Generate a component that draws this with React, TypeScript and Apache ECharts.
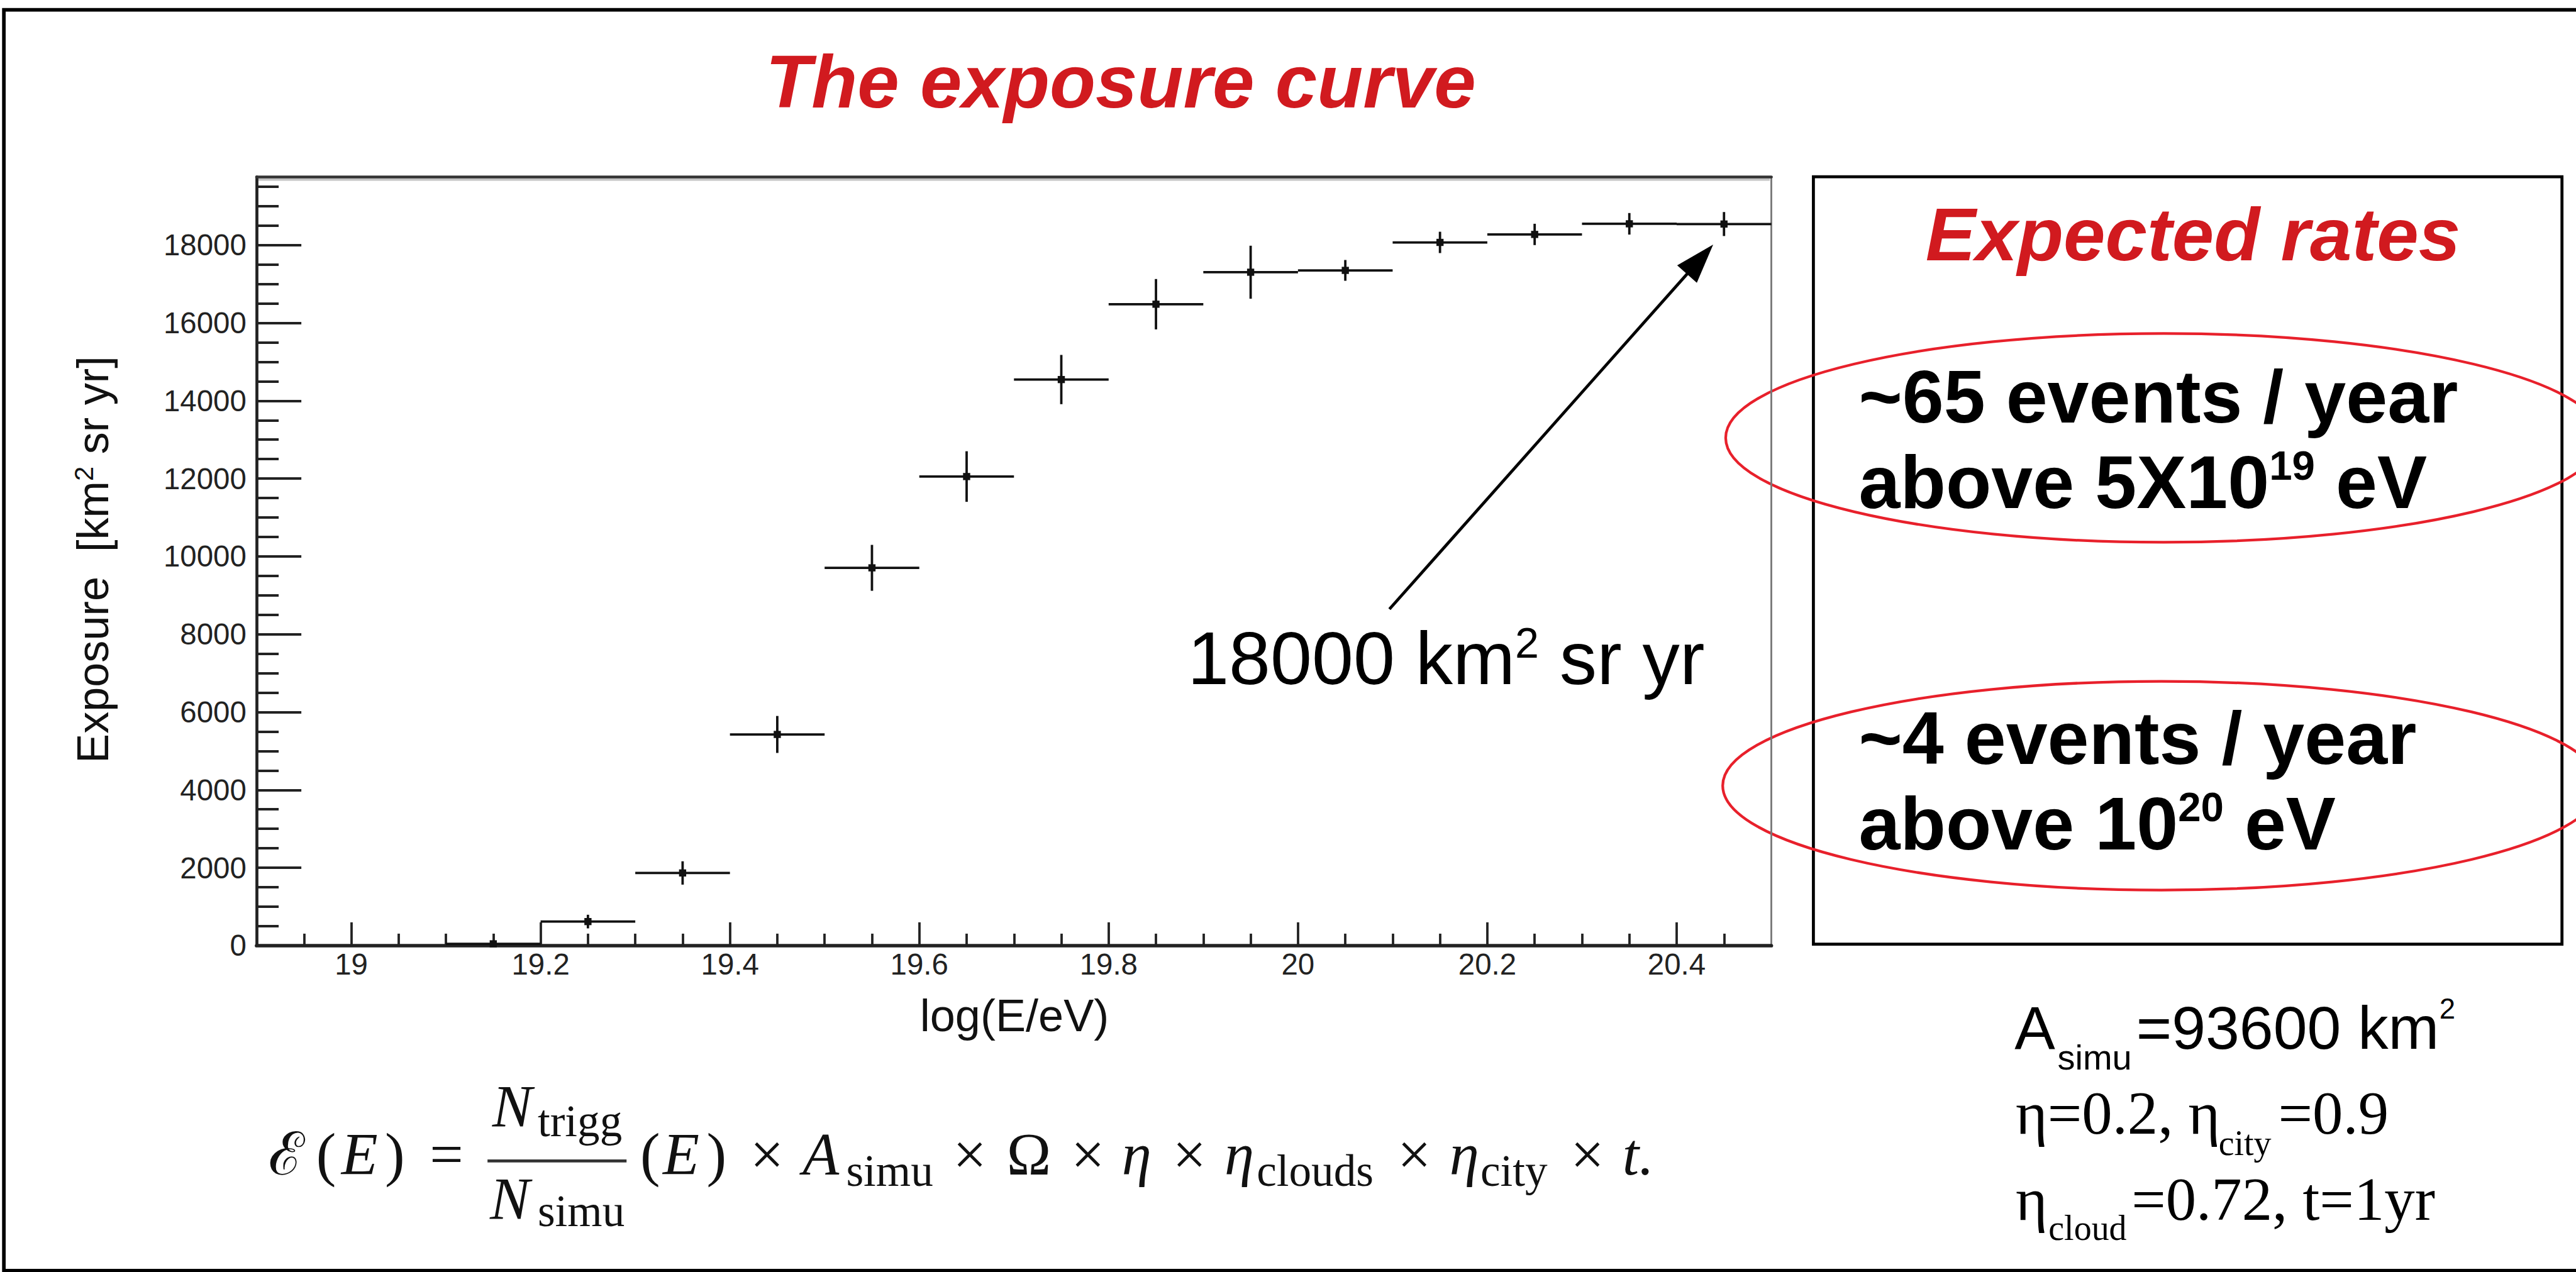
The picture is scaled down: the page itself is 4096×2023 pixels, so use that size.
import React, { useEffect, useRef } from 'react';
import * as echarts from 'echarts';

// scale from reference pixels (4317 wide) to the window (4096 wide)
const S = 4096 / 4317;

// ---- data ----
const binCenters = [19.15, 19.25, 19.35, 19.45, 19.55, 19.65, 19.75, 19.85, 19.95, 20.05, 20.15, 20.25, 20.35, 20.45];
const exposure = [45, 617, 1866, 5425, 9706, 12052, 14544, 16480, 17302, 17349, 18068, 18273, 18546, 18540];
const exposureErr = [40, 175, 300, 475, 590, 650, 633, 647, 681, 267, 274, 274, 277, 308];
const binWidth = 0.1;

const xMin = 18.9;
const xMax = 20.5;
const yMin = 0;
const yMax = 19750;
const xMajorTicks = [19, 19.2, 19.4, 19.6, 19.8, 20, 20.2, 20.4];
const yMajorTicks = [0, 2000, 4000, 6000, 8000, 10000, 12000, 14000, 16000, 18000];
const xMinorStep = 0.05;
const yMinorStep = 500;

function minorTicks(lo: number, hi: number, step: number, majors: number[]) {
  const out: number[] = [];
  const n = Math.round((hi - lo) / step);
  for (let i = 1; i < n; i++) {
    const v = Math.round((lo + i * step) * 1000) / 1000;
    if (!majors.some((m) => Math.abs(m - v) < 1e-6)) out.push(v);
  }
  return out;
}
const xMinorTicks = minorTicks(xMin, xMax, xMinorStep, xMajorTicks);
const yMinorTicks = minorTicks(yMin, yMax, yMinorStep, yMajorTicks);

const SANS = "'Liberation Sans', Arial, Helvetica, sans-serif";
const SERIF = "'Liberation Serif', 'DejaVu Serif', 'Times New Roman', serif";
const RED = '#d11a1f';
const ELLIPSE_RED = '#e8202b';

// place text by its left (or centre) x and its alphabetic baseline, in reference px
function label(
  x: number,
  baseline: number,
  text: string,
  size: number,
  opt: { family?: string; weight?: string; style?: string; color?: string; align?: string } = {}
) {
  const fam = opt.family ?? SANS;
  const c = fam === SERIF ? 0.338 : 0.347;
  return {
    type: 'text',
    x: x * S,
    y: (baseline - c * size) * S,
    silent: true,
    style: {
      text,
      fontSize: size * S,
      fontFamily: fam,
      fontWeight: opt.weight ?? 'normal',
      fontStyle: opt.style ?? 'normal',
      fill: opt.color ?? '#000',
      align: opt.align ?? 'left',
      verticalAlign: 'middle',
    },
  };
}

// text with one superscript
function supLabel(
  x: number,
  baseline: number,
  before: string,
  sup: string,
  after: string,
  size: number,
  supSize: number,
  opt: { weight?: string; color?: string } = {}
) {
  const base = { fontSize: size * S, lineHeight: size * S, fontFamily: SANS, fontWeight: opt.weight ?? 'normal', fill: opt.color ?? '#000' };
  return {
    type: 'text',
    x: x * S,
    y: (baseline - 0.347 * size) * S,
    silent: true,
    style: {
      text: `{m|${before}}{s|${sup}}{m|${after}}`,
      align: 'left',
      verticalAlign: 'middle',
      rich: {
        m: base,
        s: { ...base, fontSize: supSize * S, lineHeight: supSize * S, verticalAlign: 'top' },
      },
    },
  };
}

function buildGraphic() {
  const els: any[] = [];

  // outer frame (right side lies outside the picture)
  els.push({ type: 'rect', silent: true, shape: { x: 6.5 * S, y: 16.5 * S, width: 4400 * S, height: (2130 - 16.5) * S }, style: { fill: 'none', stroke: '#000', lineWidth: 6 * S } });

  // light band under the top frame of the plot
  els.push({ type: 'line', silent: true, shape: { x1: 433 * S, y1: 301 * S, x2: 2966 * S, y2: 301 * S }, style: { stroke: '#c4c4c4', lineWidth: 4 * S } });

  // title
  els.push(label(1283, 180, 'The exposure curve', 126, { weight: 'bold', style: 'italic', color: RED }));

  // y axis title (rotated)
  const yt = { fontSize: 74 * S, lineHeight: 74 * S, fontFamily: SANS, fill: '#111' };
  els.push({
    type: 'text', silent: true, x: 155.3 * S, y: 938 * S, rotation: Math.PI / 2,
    style: {
      text: '{m|Exposure\u00a0\u00a0[km}{s|2}{m|\u00a0sr yr]}',
      align: 'center', verticalAlign: 'middle',
      rich: { m: yt, s: { ...yt, fontSize: 44 * S, lineHeight: 44 * S, verticalAlign: 'top' } },
    },
  });

  // x axis title
  els.push(label(1700, 1729, 'log(E/eV)', 76, { align: 'center', color: '#111' }));

  // arrow annotation
  const tail = [2328.5, 1021];
  const tip = [2871, 410];
  const dx = tip[0] - tail[0];
  const dy = tip[1] - tail[1];
  const L = Math.hypot(dx, dy);
  const ux = dx / L, uy = dy / L;
  const hl = 66, hw = 22;
  const bx = tip[0] - ux * hl, by = tip[1] - uy * hl;
  els.push({ type: 'line', silent: true, shape: { x1: tail[0] * S, y1: tail[1] * S, x2: (bx + ux * 6) * S, y2: (by + uy * 6) * S }, style: { stroke: '#000', lineWidth: 5 * S } });
  els.push({
    type: 'polygon', silent: true,
    shape: { points: [[tip[0] * S, tip[1] * S], [(bx - uy * hw) * S, (by + ux * hw) * S], [(bx + uy * hw) * S, (by - ux * hw) * S]] },
    style: { fill: '#000' },
  });
  els.push(supLabel(1990, 1147, '18000 km', '2', '\u00a0sr yr', 125, 72));

  // expected rates box
  els.push({ type: 'rect', silent: true, shape: { x: 3039 * S, y: 296.4 * S, width: (4293.5 - 3039) * S, height: (1582.7 - 296.4) * S }, style: { fill: 'none', stroke: '#000', lineWidth: 5 * S } });
  els.push(label(3227, 436, 'Expected rates', 126, { weight: 'bold', style: 'italic', color: RED }));
  els.push(label(3115, 708, '~65 events / year', 125, { weight: 'bold' }));
  els.push(supLabel(3115, 852, 'above 5X10', '19', '\u00a0eV', 125, 69, { weight: 'bold' }));
  els.push(label(3115, 1281, '~4 events / year', 125, { weight: 'bold' }));
  els.push(supLabel(3115, 1424, 'above 10', '20', '\u00a0eV', 125, 69, { weight: 'bold' }));
  els.push({ type: 'ellipse', silent: true, shape: { cx: 3626 * S, cy: 734 * S, rx: 734 * S, ry: 175 * S }, style: { fill: 'none', stroke: ELLIPSE_RED, lineWidth: 4.5 * S } });
  els.push({ type: 'ellipse', silent: true, shape: { cx: 3622 * S, cy: 1317 * S, rx: 735 * S, ry: 175 * S }, style: { fill: 'none', stroke: ELLIPSE_RED, lineWidth: 4.5 * S } });

  // parameters (bottom right)
  els.push(label(3376, 1758, 'A', 102));
  els.push(label(3448, 1793, 'simu', 59));
  els.push(label(3580, 1758, '=93600 km', 102));
  els.push(label(4088, 1708, '2', 48));
  els.push(label(3378, 1900, 'η=0.2, η', 102, { family: SERIF }));
  els.push(label(3718, 1936, 'city', 59, { family: SERIF }));
  els.push(label(3818, 1900, '=0.9', 102, { family: SERIF }));
  els.push(label(3378, 2044.5, 'η', 102, { family: SERIF }));
  els.push(label(3433, 2078.5, 'cloud', 59, { family: SERIF }));
  els.push(label(3572, 2044.5, '=0.72, t=1yr', 102, { family: SERIF }));

  // formula
  const B = 1969, BS = 1988, M = 100, SB = 75;
  const f = (x: number, b: number, t: string, size: number, italic = false) =>
    label(x, b, t, size, { family: SERIF, style: italic ? 'italic' : 'normal', color: '#111' });
  els.push(f(450, B, 'ℰ', M));
  els.push(f(530, B, '(', M));
  els.push(f(572, B, 'E', M, true));
  els.push(f(645, B, ')', M));
  els.push(f(720, B, '=', M));
  els.push({ type: 'line', silent: true, shape: { x1: 817 * S, y1: 1946 * S, x2: 1050 * S, y2: 1946 * S }, style: { stroke: '#333', lineWidth: 5 * S } });
  els.push(f(825, 1889, 'N', M, true));
  els.push(f(901, 1905, 'trigg', SB));
  els.push(f(821, 2044, 'N', M, true));
  els.push(f(901, 2055, 'simu', SB));
  els.push(f(1073, B, '(', M));
  els.push(f(1111, B, 'E', M, true));
  els.push(f(1184, B, ')', M));
  els.push(f(1257, B, '×', M));
  els.push(f(1345, B, 'A', M, true));
  els.push(f(1418, BS, 'simu', SB));
  els.push(f(1597, B, '×', M));
  els.push(f(1687, B, 'Ω', M));
  els.push(f(1795, B, '×', M));
  els.push(f(1880, B, 'η', M, true));
  els.push(f(1965, B, '×', M));
  els.push(f(2052, B, 'η', M, true));
  els.push(f(2106, BS, 'clouds', SB));
  els.push(f(2342, B, '×', M));
  els.push(f(2429, B, 'η', M, true));
  els.push(f(2481, BS, 'city', SB));
  els.push(f(2632, B, '×', M));
  els.push(f(2719, B, 't.', M, true));

  return els;
}

const AXIS_COLOR = '#222';

function buildOption(): any {
  const gridLeft = 430, gridTop = 296.6, gridRight = 2968.5, gridBottom = 1585;
  const fmtX = (v: number) => String(Number(v.toFixed(2)));
  const fmtY = (v: number) => String(Math.round(v));
  const points = binCenters.map((x, i) => [x, exposure[i], exposureErr[i]]);
  const common = { type: 'value', min: xMin, max: xMax, splitLine: { show: false } };
  const commonY = { type: 'value', min: yMin, max: yMax, splitLine: { show: false } };
  return {
    animation: false,
    backgroundColor: '#ffffff',
    grid: { left: gridLeft * S, top: gridTop * S, width: (gridRight - gridLeft) * S, height: (gridBottom - gridTop) * S, containLabel: false },
    xAxis: [
      {
        ...common, position: 'bottom',
        axisLine: { show: true, onZero: false, lineStyle: { color: AXIS_COLOR, width: 6 * S } },
        axisTick: { show: true, inside: true, length: 39 * S, customValues: xMajorTicks, lineStyle: { color: AXIS_COLOR, width: 4 * S } },
        axisLabel: { show: true, customValues: xMajorTicks, formatter: fmtX, fontSize: 50 * S, fontFamily: SANS, color: '#222', margin: 6 * S },
      },
      {
        ...common, position: 'bottom',
        axisLine: { show: false, onZero: false },
        axisTick: { show: true, inside: true, length: 20 * S, customValues: xMinorTicks, lineStyle: { color: AXIS_COLOR, width: 4 * S } },
        axisLabel: { show: false },
      },
      {
        ...common, position: 'top',
        axisLine: { show: true, onZero: false, lineStyle: { color: '#333', width: 5 * S } },
        axisTick: { show: false },
        axisLabel: { show: false },
      },
    ],
    yAxis: [
      {
        ...commonY, position: 'left',
        axisLine: { show: true, onZero: false, lineStyle: { color: AXIS_COLOR, width: 5 * S } },
        axisTick: { show: true, inside: true, length: 75 * S, customValues: yMajorTicks, lineStyle: { color: AXIS_COLOR, width: 4 * S } },
        axisLabel: { show: true, customValues: yMajorTicks, formatter: fmtY, fontSize: 50 * S, fontFamily: SANS, color: '#222', margin: 17 * S },
      },
      {
        ...commonY, position: 'left',
        axisLine: { show: false, onZero: false },
        axisTick: { show: true, inside: true, length: 37 * S, customValues: yMinorTicks, lineStyle: { color: AXIS_COLOR, width: 4 * S } },
        axisLabel: { show: false },
      },
      {
        ...commonY, position: 'right',
        axisLine: { show: true, onZero: false, lineStyle: { color: '#777', width: 3 * S } },
        axisTick: { show: false },
        axisLabel: { show: false },
      },
    ],
    series: [
      {
        type: 'custom',
        name: 'Exposure',
        xAxisIndex: 0,
        yAxisIndex: 0,
        data: points,
        renderItem: (_params: any, api: any) => {
          const x = api.value(0);
          const y = api.value(1);
          const e = api.value(2);
          const l = api.coord([x - binWidth / 2, y]);
          const r = api.coord([x + binWidth / 2, y]);
          const t = api.coord([x, y + e]);
          const b = api.coord([x, Math.max(0, y - e)]);
          const c = api.coord([x, y]);
          const ls = { stroke: '#111', lineWidth: 4 * S };
          const m = 12 * S;
          return {
            type: 'group',
            children: [
              { type: 'line', shape: { x1: l[0], y1: l[1], x2: r[0], y2: r[1] }, style: ls },
              { type: 'line', shape: { x1: t[0], y1: t[1], x2: b[0], y2: b[1] }, style: ls },
              { type: 'rect', shape: { x: c[0] - m / 2, y: c[1] - m / 2, width: m, height: m }, style: { fill: '#111' } },
            ],
          };
        },
      },
    ],
    graphic: { elements: buildGraphic() },
  };
}

export default function App() {
  const ref = useRef<HTMLDivElement>(null);
  useEffect(() => {
    if (!ref.current) return;
    const chart = echarts.init(ref.current, null, { renderer: 'svg' });
    chart.setOption(buildOption());
    return () => chart.dispose();
  }, []);
  return (
    <div
      ref={ref}
      style={{ position: 'absolute', left: 0, top: 0, width: 4096, height: 2023, overflow: 'hidden', background: '#fff' }}
    />
  );
}
